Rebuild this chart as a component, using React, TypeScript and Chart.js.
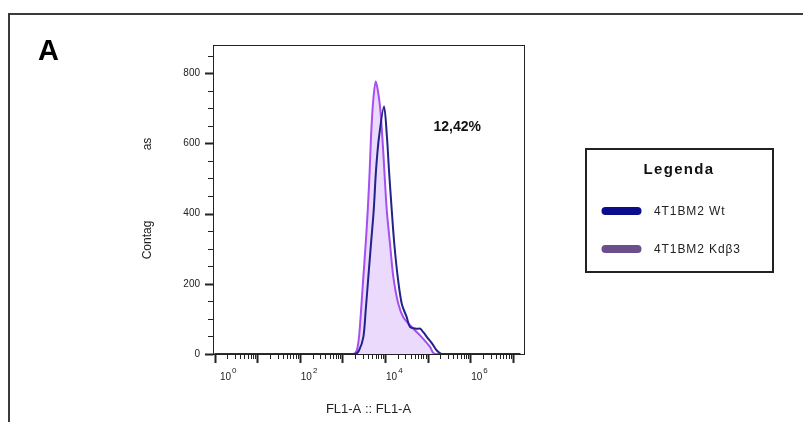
import React, { useEffect, useRef } from 'react';
import { Chart, registerables } from 'chart.js';

Chart.register(...registerables);

// ---- Data ----
const SERIES_LABELS = ['4T1BM2 Wt', '4T1BM2 Kdβ3'];

const WT_FL1 = [1, 1980, 2450, 3100, 3520, 4060, 4690, 5430, 6150, 7230, 9480, 11100, 12400, 14400, 16500, 19900, 24700, 32300, 38600, 55500, 66400, 79300, 104000, 129000, 164000, 214000, 1.5e7];
const WT_COUNTS = [0, 0, 10, 48, 124, 219, 314, 409, 523, 618, 705, 618, 523, 409, 314, 219, 143, 105, 77, 72, 72, 62, 43, 29, 10, 0, 0];

const KD_FL1 = [1, 1800, 2170, 2450, 2740, 3100, 3520, 3930, 4370, 4690, 5220, 6050, 7500, 8650, 9640, 11000, 13100, 15700, 20500, 26900, 42400, 72600, 114000, 149000, 1.5e7];
const KD_COUNTS = [0, 0, 10, 48, 124, 219, 314, 409, 523, 618, 713, 776, 713, 618, 523, 409, 314, 219, 143, 105, 77, 48, 20, 0, 0];

const X_MIN = 0.917;
const X_MAX = 1.83e7;
const X_DECADES = [0, 1, 2, 3, 4, 5, 6, 7];
const X_LABEL_DECADES = [0, 2, 4, 6];
const Y_MAX = 880;
const Y_LABEL_STEP = 200;
const Y_MINOR_STEP = 50;

const PANEL_LETTER = 'A';
const PERCENT_TEXT = '12,42%';
const X_TITLE = 'FL1-A :: FL1-A';
const Y_TITLE_PARTS = ['Contag', 'as'];
const LEGEND_TITLE = 'Legenda';

const FONT = "Arial, 'Liberation Sans', Helvetica, sans-serif";
const WT_COLOR = '#22228a';
const KD_LINE = '#a64ef0';
const KD_FILL = '#ebdafc';
const WT_LEGEND = '#0c0c8e';
const KD_LEGEND = '#6b4f8c';

const toPoints = (xs: number[], ys: number[]) => xs.map((x, i) => ({ x, y: ys[i] }));

const decor = {
  id: 'decor',
  afterDraw(chart: any) {
    const ctx: CanvasRenderingContext2D = chart.ctx;
    const { left, right, top, bottom } = chart.chartArea;
    const xs = chart.scales.x;
    const ys = chart.scales.y;
    ctx.save();

    // outer panel frame (top + left edges visible)
    ctx.strokeStyle = '#3a3a3a';
    ctx.lineWidth = 2;
    ctx.beginPath();
    ctx.moveTo(9, 422);
    ctx.lineTo(9, 14);
    ctx.lineTo(803, 14);
    ctx.stroke();

    // plot frame
    ctx.strokeStyle = '#222';
    ctx.lineWidth = 1;
    ctx.strokeRect(left + 0.5, top + 0.5, right - left, bottom - top);

    // y ticks
    for (let v = 0; v <= Y_MAX; v += Y_MINOR_STEP) {
      const y = Math.round(ys.getPixelForValue(v)) + 0.5;
      const major = v % Y_LABEL_STEP === 0;
      ctx.lineWidth = major ? 2 : 1;
      ctx.beginPath();
      ctx.moveTo(left - (major ? 8 : 5), y);
      ctx.lineTo(left + 0.5, y);
      ctx.stroke();
    }

    // x ticks (log decades + minors)
    for (const d of X_DECADES) {
      const base = Math.pow(10, d);
      for (let m = 1; m <= 9; m++) {
        const v = base * m;
        if (v < X_MIN || v > X_MAX) continue;
        const x = Math.round(xs.getPixelForValue(v)) + 0.5;
        const major = m === 1;
        ctx.lineWidth = major ? 2 : 1;
        ctx.beginPath();
        ctx.moveTo(x, bottom);
        ctx.lineTo(x, bottom + (major ? 9 : 5));
        ctx.stroke();
      }
    }

    // x tick labels 10^n
    ctx.fillStyle = '#222';
    ctx.textAlign = 'left';
    ctx.textBaseline = 'alphabetic';
    for (const d of X_LABEL_DECADES) {
      const px = xs.getPixelForValue(Math.pow(10, d));
      const lx = Math.max(px + 1, left + 7);
      ctx.font = `10px ${FONT}`;
      ctx.fillText('10', lx, 379.5);
      const w = ctx.measureText('10').width;
      ctx.font = `8px ${FONT}`;
      ctx.fillText(String(d), lx + w + 1, 373);
    }

    // x title
    ctx.font = `13px ${FONT}`;
    ctx.textAlign = 'center';
    ctx.fillStyle = '#222';
    ctx.fillText(X_TITLE, (left + right) / 2, 412.5);

    // y title pieces (rotated)
    ctx.font = `12px ${FONT}`;
    ctx.textBaseline = 'middle';
    const yTitlePos = [240, 144];
    Y_TITLE_PARTS.forEach((t, i) => {
      ctx.save();
      ctx.translate(148, yTitlePos[i]);
      ctx.rotate(-Math.PI / 2);
      ctx.textAlign = 'center';
      ctx.fillText(t, 0, 0);
      ctx.restore();
    });

    // panel letter
    ctx.font = `bold 29px ${FONT}`;
    ctx.textAlign = 'left';
    ctx.textBaseline = 'alphabetic';
    ctx.fillStyle = '#000';
    ctx.fillText(PANEL_LETTER, 38, 60);

    // percentage annotation
    ctx.font = `bold 14px ${FONT}`;
    ctx.fillStyle = '#111';
    ctx.fillText(PERCENT_TEXT, 433.5, 131);

    // legend box
    ctx.strokeStyle = '#222';
    ctx.lineWidth = 2;
    ctx.strokeRect(586, 149, 187, 123);
    ctx.font = `bold 15px ${FONT}`;
    ctx.textAlign = 'center';
    (ctx as any).letterSpacing = '1.3px';
    ctx.fillStyle = '#111';
    ctx.fillText(LEGEND_TITLE, 679, 174);

    const colors = [WT_LEGEND, KD_LEGEND];
    const rows = [211, 249];
    SERIES_LABELS.forEach((lab, i) => {
      ctx.strokeStyle = colors[i];
      ctx.lineWidth = 8;
      ctx.lineCap = 'round';
      ctx.beginPath();
      ctx.moveTo(605.5, rows[i]);
      ctx.lineTo(637.5, rows[i]);
      ctx.stroke();
      ctx.font = `12px ${FONT}`;
      (ctx as any).letterSpacing = '0.9px';
      ctx.textAlign = 'left';
      ctx.textBaseline = 'middle';
      ctx.fillStyle = '#222';
      ctx.fillText(lab, 654, rows[i] + 1);
    });
    (ctx as any).letterSpacing = '0px';
    ctx.restore();
  },
};

export default function App() {
  const ref = useRef<HTMLCanvasElement>(null);
  useEffect(() => {
    if (!ref.current) return;
    const chart = new Chart(ref.current, {
      type: 'line',
      data: {
        datasets: [
          {
            label: SERIES_LABELS[0],
            data: toPoints(WT_FL1, WT_COUNTS),
            borderColor: WT_COLOR,
            borderWidth: 2,
            pointRadius: 0,
            fill: false,
            tension: 0.3,
          },
          {
            label: SERIES_LABELS[1],
            data: toPoints(KD_FL1, KD_COUNTS),
            borderColor: KD_LINE,
            backgroundColor: KD_FILL,
            borderWidth: 2,
            pointRadius: 0,
            fill: 'origin',
            tension: 0.3,
          },
        ],
      },
      options: {
        responsive: false,
        animation: false,
        devicePixelRatio: 1,
        layout: { padding: { left: 0, top: 45, right: 279, bottom: 68 } },
        plugins: { legend: { display: false }, tooltip: { enabled: false }, title: { display: false } },
        scales: {
          x: {
            type: 'logarithmic',
            min: X_MIN,
            max: X_MAX,
            ticks: { display: false },
            grid: { display: false, drawTicks: false },
            border: { display: false },
            afterFit: (s: any) => { s.height = 0; },
          },
          y: {
            type: 'linear',
            min: 0,
            max: Y_MAX,
            ticks: {
              stepSize: Y_LABEL_STEP,
              padding: 13,
              autoSkip: false,
              color: '#222',
              font: { family: FONT, size: 10 },
              callback: (v: any) => (Number(v) % Y_LABEL_STEP === 0 ? String(v) : ''),
            },
            grid: { display: false, drawTicks: false },
            border: { display: false },
            afterFit: (s: any) => { s.width = 213; },
          },
        },
      } as any,
      plugins: [decor],
    });
    return () => chart.destroy();
  }, []);
  return (
    <div style={{ position: 'fixed', left: 0, top: 0, width: 803, height: 422, background: '#fff' }}>
      <canvas ref={ref} width={803} height={422} style={{ display: 'block', width: 803, height: 422 }} />
    </div>
  );
}
